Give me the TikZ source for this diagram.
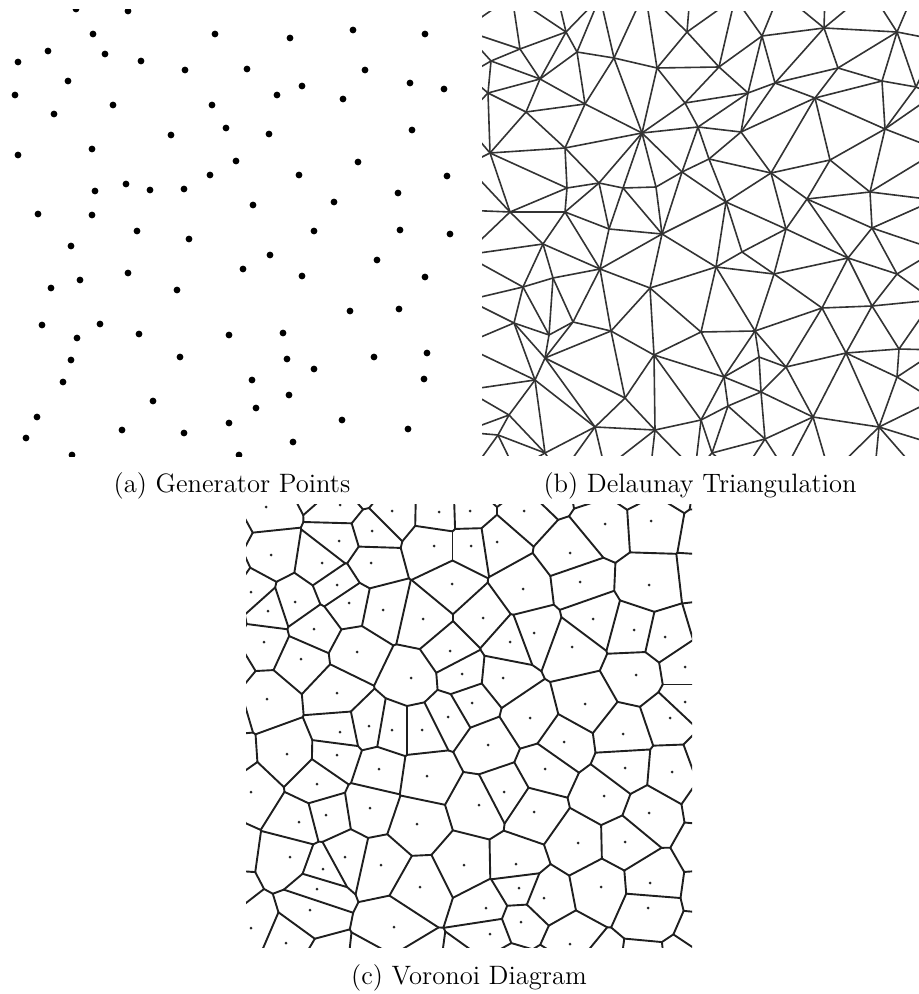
\documentclass[tikz,border=0pt]{standalone}
\usepackage{tikz}

%--------------------
% generator points (pixel coordinates, y downwards)
%--------------------
\def\ptsA{76/9, 128/11, 93/34, 215/34, 48/51, 105/54, 18/62, 141/61, 185/70,
  68/81, 15/95, 113/105, 212/105, 54/114, 226/128, 171/135, 18/155, 92/149,
  236/161, 210/175, 126/184, 95/191, 150/190, 184/189, 38/214, 92/215, 137/231,
  290/38, 353/30, 425/34, 247/69, 365/70, 410/83, 444/89, 302/86, 277/95,
  343/99, 269/134, 412/130, 358/162, 299/175, 447/176, 398/193, 253/205,
  334/202, 314/231, 400/230, 450/234, 189/239, 71/246, 128/273, 80/280, 51/288,
  177/290, 42/325, 100/324, 139/334, 229/335, 77/338, 71/360, 180/357, 63/382,
  153/401, 37/417, 229/423, 26/438, 122/430, 184/433, 72/455, 239/455, 270/255,
  243/269, 377/260, 302/276, 425/277, 350/311, 399/309, 283/333, 287/359,
  314/369, 374/357, 427/353, 252/380, 424/379, 289/395, 256/408, 342/420,
  408/429, 293/442}

\def\ptsB{566/32, 520/49, 491/61, 577/52, 614/58, 657/68, 687/32, 540/79,
  488/93, 585/104, 526/112, 685/103, 698/127, 642/133, 490/153, 565/148,
  682/172, 599/183, 623/188, 567/188, 656/187, 510/212, 565/212, 609/229,
  662/234, 762/36, 824/28, 897/32, 719/67, 748/93, 775/83, 838/68, 882/81,
  916/87, 815/98, 741/132, 885/129, 709/159, 830/160, 771/173, 870/192,
  726/202, 807/199, 786/229, 872/228, 543/244, 600/269, 553/278, 523/287,
  650/288, 573/322, 514/323, 611/331, 549/335, 701/332, 545/358, 654/355,
  535/380, 625/398, 509/415, 498/435, 595/427, 655/430, 701/420, 545/453,
  742/252, 716/267, 774/274, 848/258, 897/274, 822/308, 872/306, 755/331,
  846/353, 899/349, 759/357, 786/367, 724/377, 897/377, 761/392, 728/406,
  813/417, 879/427, 765/439, 712/453}
% points just outside the frame
\def\ringB{470/-8, 512/-4, 556/-10, 600/-3, 645/-9, 690/-5, 735/-2, 780/-8,
  825/-6, 870/-10, 912/-3, 945/-6, 470/474, 515/470, 560/476, 605/469, 650/474,
  695/471, 740/477, 785/470, 830/475, 875/469, 920/474, 945/470, 463/30, 467/75,
  462/120, 466/165, 461/210, 465/255, 468/300, 462/345, 466/390, 463/432,
  938/40, 934/95, 939/150, 935/200, 937/250, 933/300, 938/350, 934/400, 937/445}

\def\ptsC{266/507, 392/511, 439/512, 470/511, 339/541, 372/531, 271/555,
  322/563, 371/563, 434/546, 471/546, 251/592, 295/602, 337/585, 349/603,
  268/611, 383/610, 452/584, 423/619, 314/629, 264/642, 301/659, 357/652,
  450/651, 462/674, 411/678, 337/693, 267/699, 524/511, 605/524, 651/521,
  497/542, 570/553, 580/582, 649/585, 523/589, 483/618, 593/619, 534/633,
  634/630, 665/637, 510/642, 572/647, 503/678, 636/675, 685/667, 472/703,
  585/704, 685/702, 448/717, 340/732, 369/726, 392/730, 422/730, 287/754,
  337/755, 379/769, 427/776, 251/792, 317/784, 370/808, 326/815, 299/822,
  417/824, 290/857, 345/857, 381/865, 323/869, 464/865, 317/889, 420/887,
  310/910, 394/927, 251/928, 286/943, 530/718, 670/718, 488/745, 564/742,
  623/734, 545/769, 625/768, 672/772, 504/792, 479/805, 604/796, 534/812,
  649/813, 578/843, 625/842, 516/864, 650/883, 519/888, 544/898, 601/887,
  486/908, 648/908, 521/922, 490/934, 570/944, 340/505}
\def\ringC{228/478, 272/484, 318/480, 362/486, 410/479, 455/485, 500/480,
  548/486, 590/478, 632/484, 676/480, 712/486, 232/968, 278/972, 325/966,
  370/971, 418/967, 462/973, 508/966, 552/972, 598/967, 642/973, 688/968,
  714/964, 224/530, 227/575, 222/620, 226/665, 223/712, 227/758, 222/802,
  226/848, 223/892, 227/935, 713/532, 710/578, 715/622, 711/668, 714/712,
  710/758, 715/802, 711/848, 714/892, 710/935}

%--------------------
% empty-circle test on integer pixels
%--------------------
\newcount\vorN \newcount\vorI \newcount\vorJ \newcount\vorK
\newcount\vorAX \newcount\vorAY \newcount\vorBX \newcount\vorBY
\newcount\vorKX \newcount\vorKY \newcount\vorDX \newcount\vorDY
\newcount\vorS \newcount\vorD \newcount\vorT \newcount\vorM
\newcount\vorLo \newcount\vorHi \newcount\vorBig
\newcount\vorX \newcount\vorY
\newcount\vorMaxSq \vorMaxSq=25600
\newdimen\vorXa \newdimen\vorYa \newdimen\vorXb \newdimen\vorYb

\def\vpx#1{\csname vp-\vorset-\the#1-x\endcsname}
\def\vpy#1{\csname vp-\vorset-\the#1-y\endcsname}

\def\vorread#1#2{%
  \global\vorN=0
  \foreach \x/\y in #2 {%
    \global\advance\vorN by 1
    \expandafter\xdef\csname vp-#1-\the\vorN-x\endcsname{\x}%
    \expandafter\xdef\csname vp-#1-\the\vorN-y\endcsname{\y}}}

\def\vorrun#1{%
  \def\vorset{#1}%
  \global\let\vorout\empty
  \vorI=1 \vorIloop}
\def\vorIloop{%
  \ifnum\vorI<\vorN
    \vorJ=\vorI \advance\vorJ by 1
    \vorJloop
    \advance\vorI by 1
    \expandafter\vorIloop
  \fi}
\def\vorJloop{%
  \ifnum\vorJ>\vorN \else
    \vorpairtest
    \advance\vorJ by 1
    \expandafter\vorJloop
  \fi}
\def\vorpairtest{%
  \vorAX=\vpx\vorI\relax \vorAY=\vpy\vorI\relax
  \vorBX=\vpx\vorJ\relax \vorBY=\vpy\vorJ\relax
  \vorDX=\numexpr\vorBX-\vorAX\relax
  \vorDY=\numexpr\vorBY-\vorAY\relax
  \ifnum\numexpr\vorDX*\vorDX+\vorDY*\vorDY\relax<\vorMaxSq
    \vorM=\ifnum\vorDX<0 -\fi\vorDX
    \vorK=\ifnum\vorDY<0 -\fi\vorDY
    \ifnum\vorK>\vorM \vorM=\vorK \fi
    \ifnum\vorM=0 \vorM=1 \fi
    \vorBig=\numexpr1500000/\vorM\relax
    \vorLo=-\vorBig \vorHi=\vorBig
    \vorK=1 \vorKloop
    \ifnum\vorLo<\vorHi \voremit \fi
  \fi}
\def\vorKloop{%
  \ifnum\vorK>\vorN \else
    \vorktest
    \ifnum\vorLo<\vorHi \else \vorK=\vorN \fi
    \advance\vorK by 1
    \expandafter\vorKloop
  \fi}
\def\vorktest{%
  \ifnum\vorK=\vorI \else \ifnum\vorK=\vorJ \else
    \vorKX=\vpx\vorK\relax \vorKY=\vpy\vorK\relax
    \vorS=\numexpr\vorDX*(\vorKY-\vorAY)-\vorDY*(\vorKX-\vorAX)\relax
    \ifnum\vorS=0 \else
      \vorX=\numexpr\vorAX+\vorBX-2*\vorKX\relax
      \vorY=\numexpr\vorAY+\vorBY-2*\vorKY\relax
      \vorD=\numexpr\vorX*\vorX+\vorY*\vorY-\vorDX*\vorDX-\vorDY*\vorDY\relax
      \vorT=\numexpr\vorD*125/\vorS\relax
      \ifnum\vorS>0
        \ifnum\vorT<\vorHi \vorHi=\vorT \fi
      \else
        \ifnum\vorT>\vorLo \vorLo=\vorT \fi
      \fi
    \fi
  \fi \fi}
% one pair: indices and the two ends of its Voronoi edge (1px = 0.5pt)
\def\voremit{%
  \vorX=\numexpr(\vorAX+\vorBX)*500-\vorLo*\vorDY\relax
  \vorY=\numexpr(\vorAY+\vorBY)*500+\vorLo*\vorDX\relax
  \vorXa=\numexpr\vorX*4096/125\relax sp
  \vorYa=-\numexpr\vorY*4096/125\relax sp
  \vorX=\numexpr(\vorAX+\vorBX)*500-\vorHi*\vorDY\relax
  \vorY=\numexpr(\vorAY+\vorBY)*500+\vorHi*\vorDX\relax
  \vorXb=\numexpr\vorX*4096/125\relax sp
  \vorYb=-\numexpr\vorY*4096/125\relax sp
  \edef\vortmp{\noexpand\vorpair{\the\vorI}{\the\vorJ}%
    {\the\vorXa}{\the\vorYa}{\the\vorXb}{\the\vorYb}}%
  \xdef\vorout{\unexpanded\expandafter{\vorout}\unexpanded\expandafter{\vortmp}}}

\edef\allB{\ptsB, \ringB}
\vorread{b}{\allB}
\vorrun{b}
\global\let\delB\vorout

\edef\allC{\ptsC, \ringC}
\vorread{c}{\allC}
\vorrun{c}
\global\let\vorC\vorout

\def\drawdelaunay#1#2#3#4#5#6{\draw[delaunay] (b#1) -- (b#2);}
\def\drawvoronoi#1#2#3#4#5#6{\draw[voronoi] (#3,#4) -- (#5,#6);}

\begin{document}
\begin{tikzpicture}[
  x=0.5pt,y=-0.5pt,
  gendot/.style={fill=black},
  seeddot/.style={fill=black!85},
  delaunay/.style={line width=0.8pt,black!80,line cap=round},
  voronoi/.style={line width=0.95pt,black!88,line cap=round,line join=round},
  caption/.style={font=\fontsize{13.3}{16}\selectfont,anchor=base,inner sep=0pt}
]
\useasboundingbox (0,0) rectangle (919,994);

%--------------------
% (a)
%--------------------
\begin{scope}
  \clip (8,10) rectangle (458,456);
  \foreach \x/\y [count=\n] in \ptsA {
    \coordinate (a\n) at (\x,\y);
    \fill[gendot] (a\n) circle (1.7pt);
  }
\end{scope}
\node[caption] (capA) at (232,492) {(a) Generator Points};

%--------------------
% (b)
%--------------------
\begin{scope}
  \clip (482,12) rectangle (919,455);
  \foreach \x/\y [count=\n] in \allB
    \coordinate (b\n) at (\x,\y);
  \let\vorpair\drawdelaunay
  \delB
\end{scope}
\node[caption] (capB) at (700,492) {(b) Delaunay Triangulation};

%--------------------
% (c)
%--------------------
\begin{scope}
  \clip (246,504) rectangle (692,947);
  \let\vorpair\drawvoronoi
  \vorC
  \foreach \x/\y [count=\n] in \ptsC {
    \coordinate (c\n) at (\x,\y);
    \fill[seeddot] (c\n) circle (0.75pt);
  }
\end{scope}
\node[caption] (capC) at (469,984) {(c) Voronoi Diagram};

\end{tikzpicture}
\end{document}
